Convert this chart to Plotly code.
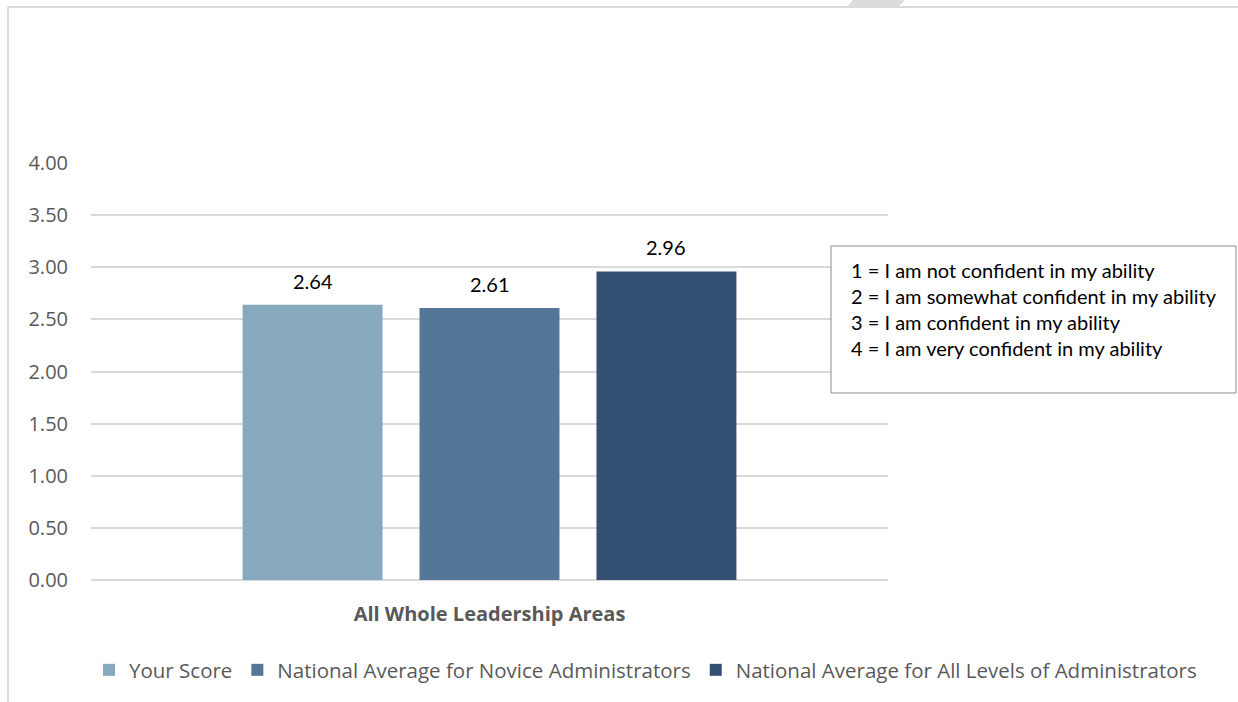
import plotly.graph_objects as go

# Survey results
category = ["All Whole Leadership Areas"]
series_names = [
    "Your Score",
    "National Average for Novice Administrators",
    "National Average for All Levels of Administrators",
]
series_values = [2.64, 2.61, 2.96]
series_colors = ["#87a9be", "#557797", "#335073"]
y_ticks = [0, 0.5, 1.0, 1.5, 2.0, 2.5, 3.0, 3.5, 4.0]
scale_notes = [
    "1 = I am not confident in my ability",
    "2 = I am somewhat confident in my ability",
    "3 = I am confident in my ability",
    "4 = I am very confident in my ability",
]

W, H = 1238, 702
ML, MR, MT, MB = 91, 350, 163, 122
PW, PH = W - ML - MR, H - MT - MB
BARGAP = 0.334
SLOT = PW * (1 - BARGAP) / len(series_names)


def px(x):
    return (x - ML) / PW


def py(y):
    return (H - MB - y) / PH


fig = go.Figure()
for name, val, col in zip(series_names, series_values, series_colors):
    fig.add_trace(go.Bar(x=category, y=[val], name=name, marker_color=col,
                         marker_line_width=0))

# value labels above each bar
for i, val in enumerate(series_values):
    fig.add_annotation(x=category[0], y=val, text=f"{val:.2f}", showarrow=False,
                       xshift=(i - 1) * SLOT, yshift=24, yanchor="middle",
                       font=dict(family="Lato", size=20, color="#000000"))

# rating scale box
fig.add_shape(type="rect", xref="paper", yref="paper",
              x0=px(831), x1=px(1236), y0=py(393), y1=py(246),
              line=dict(color="#8c8c8c", width=1), fillcolor="white", layer="above")
for j, note in enumerate(scale_notes):
    fig.add_annotation(xref="paper", yref="paper", x=px(849), y=py(270 + 26 * j),
                       text=note, showarrow=False, xanchor="left", yanchor="middle",
                       font=dict(family="Lato", size=20, color="#000000"))

# chart frame edges
fig.add_shape(type="line", xref="paper", yref="paper",
              x0=px(8), x1=px(1240), y0=py(7), y1=py(7),
              line=dict(color="#d9d9d9", width=2))
fig.add_shape(type="line", xref="paper", yref="paper",
              x0=px(8), x1=px(8), y0=py(7), y1=py(705),
              line=dict(color="#d9d9d9", width=2))
fig.add_shape(type="path", xref="paper", yref="paper",
              path=f"M {px(847)} {py(7)} L {px(853)} {py(0)} L {px(905)} {py(0)} "
                   f"L {px(898)} {py(7)} Z",
              fillcolor="#dcdcdc", line=dict(width=0))

fig.update_layout(
    width=W, height=H,
    margin=dict(l=ML, r=MR, t=MT, b=MB, autoexpand=False),
    paper_bgcolor="white", plot_bgcolor="white",
    barmode="group", bargap=BARGAP, bargroupgap=0.209,
    showlegend=True,
    # anchored right of the plot area and below it so the row can span
    # the full chart width without wrapping
    legend=dict(orientation="h", xref="paper", yref="paper",
                x=px(1202), xanchor="right", y=py(670), yanchor="middle",
                font=dict(family="Open Sans", size=20.5, color="#595959"),
                itemwidth=30, traceorder="normal"),
    xaxis=dict(showgrid=False, showline=False, zeroline=False,
               ticks="outside", ticklen=16, tickcolor="rgba(0,0,0,0)",
               tickfont=dict(family="Open Sans", size=20, color="#595959",
                             weight="bold")),
    yaxis=dict(range=[0, 4], tickvals=y_ticks,
               ticktext=[f"{v:.2f}" for v in y_ticks],
               showgrid=True, gridcolor="#d9d9d9", gridwidth=2,
               zeroline=True, zerolinecolor="#d9d9d9", zerolinewidth=2,
               showline=False, ticks="outside", ticklen=18,
               tickcolor="rgba(0,0,0,0)",
               tickfont=dict(family="Open Sans", size=20, color="#595959")),
)

fig.write_html("out.html")
